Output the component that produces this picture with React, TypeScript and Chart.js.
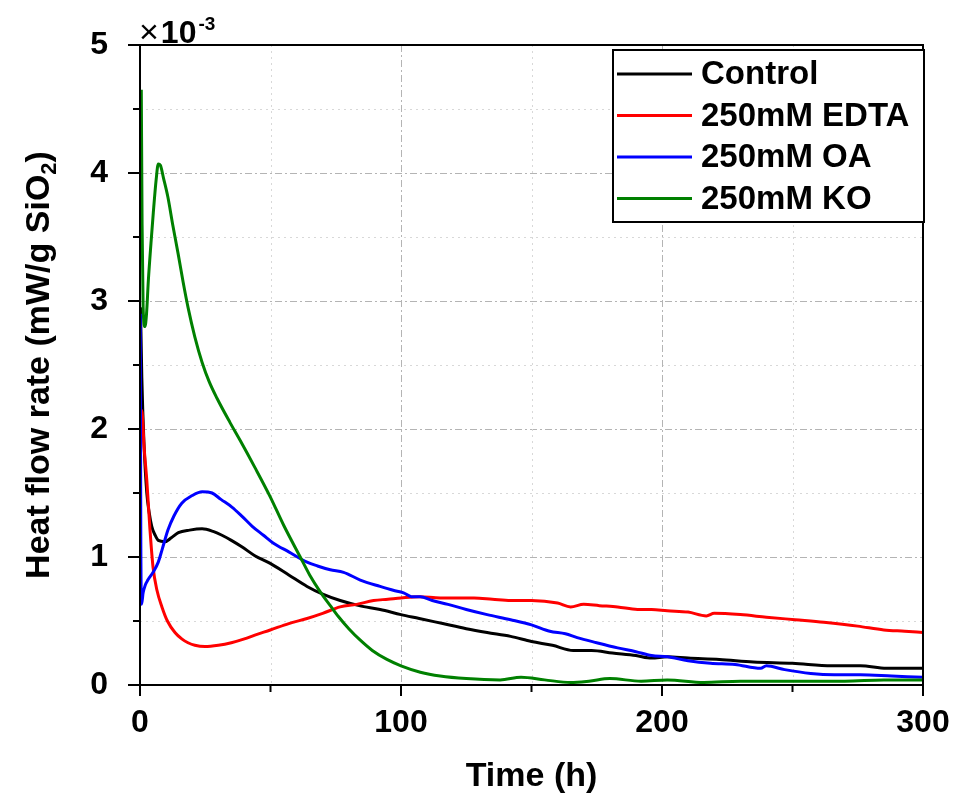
import React, { useEffect, useRef } from 'react';
import { Chart, registerables } from 'chart.js';

Chart.register(...registerables);

const FONT = "'Liberation Sans', Arial, Helvetica, sans-serif";

// Heat flow rate values in units of 10^-3 mW/g SiO2, time in hours
const seriesLabels = ['Control', '250mM EDTA', '250mM OA', '250mM KO'];
const seriesColors = ['#000000', '#ff0000', '#0000ff', '#008000'];

const controlX = [0.2, 0.7, 1.5, 2.6, 3.5, 4.5, 5.8, 7, 9.6, 12, 14.7, 19, 23.8, 28, 31.4, 35, 39, 44, 49.9, 57, 64, 70, 76.7, 84, 92, 100, 107, 116, 125, 133, 142, 150, 158, 166, 173, 181, 190, 196, 202, 210, 222, 235, 250, 265, 276, 286, 293, 300];
const controlY = [2.95, 2.4, 1.9, 1.5, 1.35, 1.24, 1.17, 1.13, 1.12, 1.15, 1.19, 1.21, 1.22, 1.2, 1.17, 1.13, 1.08, 1.01, 0.95, 0.86, 0.77, 0.71, 0.66, 0.62, 0.59, 0.55, 0.52, 0.48, 0.44, 0.41, 0.38, 0.34, 0.31, 0.27, 0.27, 0.25, 0.23, 0.21, 0.22, 0.21, 0.2, 0.18, 0.17, 0.15, 0.15, 0.13, 0.13, 0.13];

const edtaX = [0.3, 0.8, 1.6, 2.6, 3.8, 5, 6.5, 8.4, 10.5, 13.4, 16, 18.4, 21, 24.9, 30, 35, 40, 44, 49.9, 57, 64, 70, 76.7, 83, 89.5, 95, 100, 107, 115, 128, 135, 142, 150, 160, 165, 170, 176, 183, 190.6, 196, 202, 210, 217, 220, 230, 240, 251, 262, 275, 285, 293, 300];
const edtaY = [2.15, 2.13, 1.85, 1.6, 1.22, 0.92, 0.74, 0.61, 0.5, 0.41, 0.36, 0.33, 0.31, 0.3, 0.31, 0.33, 0.36, 0.39, 0.43, 0.48, 0.52, 0.56, 0.61, 0.63, 0.66, 0.67, 0.68, 0.69, 0.68, 0.68, 0.67, 0.66, 0.66, 0.64, 0.61, 0.63, 0.62, 0.61, 0.59, 0.59, 0.58, 0.57, 0.54, 0.56, 0.55, 0.53, 0.51, 0.49, 0.46, 0.43, 0.42, 0.41];

const oaX = [0.1, 0.3, 0.6, 1.2, 2, 3, 5, 7, 8.5, 10.7, 13, 16, 20, 23.8, 27.6, 31, 35.2, 39, 43, 47.3, 51, 57, 64, 68, 72.9, 78, 84.4, 92, 97, 101, 104, 107.4, 112, 118, 125, 133, 142, 150, 157, 163, 167.5, 175, 183, 190, 196, 202, 210, 218.6, 228, 237.8, 240, 247, 257, 266, 276, 288, 300];
const oaY = [2.9, 1.2, 0.63, 0.72, 0.78, 0.82, 0.88, 0.96, 1.06, 1.21, 1.32, 1.42, 1.48, 1.51, 1.5, 1.45, 1.39, 1.32, 1.24, 1.17, 1.11, 1.04, 0.96, 0.93, 0.9, 0.88, 0.82, 0.77, 0.74, 0.72, 0.69, 0.69, 0.66, 0.63, 0.59, 0.55, 0.51, 0.47, 0.42, 0.4, 0.37, 0.33, 0.29, 0.26, 0.23, 0.22, 0.19, 0.17, 0.16, 0.13, 0.15, 0.12, 0.09, 0.08, 0.08, 0.07, 0.06];

const koX = [0.5, 0.8, 1.2, 1.9, 2.5, 3.2, 4.2, 5.1, 6.2, 7, 7.8, 9, 10.7, 12.5, 14.6, 16.5, 18.4, 21, 23.8, 26.5, 29.5, 34.5, 38.4, 44, 49.9, 55, 61.4, 65, 69, 72.9, 76, 80, 84.4, 89, 94.6, 100, 107.4, 115, 125, 138, 146, 155, 165, 172, 180, 192, 202, 216, 230, 250, 270, 285, 300];
const koY = [4.65, 3.6, 2.95, 2.8, 2.9, 3.16, 3.45, 3.69, 3.95, 4.07, 4.06, 3.96, 3.81, 3.6, 3.37, 3.15, 2.95, 2.72, 2.52, 2.37, 2.24, 2.05, 1.91, 1.7, 1.47, 1.25, 1.0, 0.86, 0.73, 0.62, 0.535, 0.44, 0.35, 0.27, 0.2, 0.15, 0.1, 0.07, 0.05, 0.04, 0.06, 0.04, 0.02, 0.03, 0.05, 0.03, 0.04, 0.02, 0.03, 0.03, 0.03, 0.04, 0.04];

const seriesX = [controlX, edtaX, oaX, koX];
const seriesY = [controlY, edtaY, oaY, koY];

const xTickLabels = [0, 100, 200, 300];
const yTickLabels = [0, 1, 2, 3, 4, 5];
const xTitle = 'Time (h)';
const yTitleMain = 'Heat flow rate (mW/g SiO';
const yTitleSub = '2';
const yTitleEnd = ')';
const multiplierBase = '10';
const multiplierExp = '-3';

const decorPlugin = {
  id: 'decor',
  beforeDatasetsDraw(chart: any) {
    const { ctx, chartArea: ca, scales } = chart;
    const xs = scales.x;
    const ys = scales.y;
    ctx.save();
    ctx.lineWidth = 1;
    ys.ticks.forEach((t: any) => {
      const y = Math.round(ys.getPixelForValue(t.value)) + 0.5;
      if (t.value <= ys.min || t.value >= ys.max) return;
      const major = yTickLabels.includes(t.value);
      ctx.strokeStyle = major ? '#b4b4b4' : '#d8d8d8';
      ctx.setLineDash(major ? [7, 3, 2, 3] : [2, 4]);
      ctx.beginPath();
      ctx.moveTo(ca.left, y);
      ctx.lineTo(ca.right, y);
      ctx.stroke();
    });
    xs.ticks.forEach((t: any) => {
      const x = Math.round(xs.getPixelForValue(t.value)) + 0.5;
      if (t.value <= xs.min || t.value >= xs.max) return;
      const major = xTickLabels.includes(t.value);
      ctx.strokeStyle = major ? '#b4b4b4' : '#d8d8d8';
      ctx.setLineDash(major ? [7, 3, 2, 3] : [2, 4]);
      ctx.beginPath();
      ctx.moveTo(x, ca.top);
      ctx.lineTo(x, ca.bottom);
      ctx.stroke();
    });
    ctx.restore();
  },
  afterDraw(chart: any) {
    const { ctx, chartArea: ca, scales } = chart;
    const xs = scales.x;
    const ys = scales.y;
    ctx.save();
    ctx.setLineDash([]);
    ctx.strokeStyle = '#000';
    ctx.lineWidth = 2;
    // frame
    ctx.strokeRect(ca.left, ca.top, ca.right - ca.left, ca.bottom - ca.top);
    // ticks
    ys.ticks.forEach((t: any) => {
      const y = ys.getPixelForValue(t.value);
      const len = yTickLabels.includes(t.value) ? 12 : 7;
      ctx.beginPath();
      ctx.moveTo(ca.left - len, y);
      ctx.lineTo(ca.left, y);
      ctx.stroke();
    });
    xs.ticks.forEach((t: any) => {
      const x = xs.getPixelForValue(t.value);
      const len = xTickLabels.includes(t.value) ? 11 : 7;
      ctx.beginPath();
      ctx.moveTo(x, ca.bottom);
      ctx.lineTo(x, ca.bottom + len);
      ctx.stroke();
    });

    // multiplier label
    ctx.fillStyle = '#000';
    ctx.textBaseline = 'alphabetic';
    ctx.textAlign = 'left';
    ctx.font = `normal 34px ${FONT}`;
    let mx = ca.left - 1;
    ctx.fillText('\u00d7', mx, ca.top - 2);
    mx += ctx.measureText('\u00d7').width + 2;
    ctx.font = `bold 32px ${FONT}`;
    ctx.fillText(multiplierBase, mx, ca.top - 2);
    mx += ctx.measureText(multiplierBase).width + 2;
    ctx.font = `bold 19px ${FONT}`;
    ctx.fillText(multiplierExp, mx, ca.top - 15);

    // y title with subscript
    ctx.save();
    ctx.translate(37, (ca.top + ca.bottom) / 2);
    ctx.rotate(-Math.PI / 2);
    ctx.font = `bold 34px ${FONT}`;
    const w1 = ctx.measureText(yTitleMain).width;
    const w3 = ctx.measureText(yTitleEnd).width;
    ctx.font = `bold 22px ${FONT}`;
    const w2 = ctx.measureText(yTitleSub).width;
    const total = w1 + w2 + w3;
    let tx = -total / 2;
    ctx.textBaseline = 'alphabetic';
    ctx.font = `bold 34px ${FONT}`;
    ctx.fillText(yTitleMain, tx, 12);
    tx += w1;
    ctx.font = `bold 22px ${FONT}`;
    ctx.fillText(yTitleSub, tx, 19);
    tx += w2;
    ctx.font = `bold 34px ${FONT}`;
    ctx.fillText(yTitleEnd, tx, 12);
    ctx.restore();

    // legend
    const lw = 311;
    const lh = 172;
    const lx = ca.right - lw + 1;
    const ly = ca.top + 5;
    ctx.fillStyle = '#fff';
    ctx.fillRect(lx, ly, lw, lh);
    ctx.strokeStyle = '#000';
    ctx.lineWidth = 2;
    ctx.strokeRect(lx, ly, lw, lh);
    ctx.font = `bold 33px ${FONT}`;
    ctx.textBaseline = 'middle';
    seriesLabels.forEach((label, i) => {
      const ry = ly + 24 + i * 41.5;
      ctx.strokeStyle = seriesColors[i];
      ctx.lineWidth = 3;
      ctx.beginPath();
      ctx.moveTo(lx + 4, ry);
      ctx.lineTo(lx + 79, ry);
      ctx.stroke();
      ctx.fillStyle = '#000';
      ctx.fillText(label, lx + 88, ry + 1);
    });
    ctx.restore();
  },
};

export default function App() {
  const ref = useRef<HTMLCanvasElement>(null);
  useEffect(() => {
    document.body.style.margin = '0';
    const canvas = ref.current;
    if (!canvas) return;
    const datasets = seriesLabels.map((label, i) => ({
      label,
      data: seriesX[i].map((x, j) => ({ x, y: seriesY[i][j] })),
      borderColor: seriesColors[i],
      backgroundColor: seriesColors[i],
      borderWidth: 3,
      pointRadius: 0,
      fill: false,
      cubicInterpolationMode: 'monotone' as const,
      order: seriesLabels.length - i,
    }));
    const chart = new Chart(canvas, {
      type: 'line',
      data: { datasets },
      plugins: [decorPlugin],
      options: {
        animation: false,
        responsive: false,
        devicePixelRatio: 1,
        layout: { padding: { top: 45, right: 32, bottom: 0, left: 0 } },
        plugins: { legend: { display: false }, tooltip: { enabled: false } },
        scales: {
          x: {
            type: 'linear',
            min: 0,
            max: 300,
            afterFit: (s: any) => {
              s.height = 114;
              s.paddingLeft = 0;
              s.paddingRight = 0;
            },
            grid: { display: false },
            border: { display: false },
            ticks: {
              stepSize: 50,
              autoSkip: false,
              maxRotation: 0,
              padding: 11,
              color: '#000',
              font: { family: FONT, size: 32, weight: 'bold' },
              callback: (v: any) => (xTickLabels.includes(Number(v)) ? String(v) : ''),
            },
            title: {
              display: true,
              text: xTitle,
              color: '#000',
              font: { family: FONT, size: 34, weight: 'bold' },
              padding: { top: 0, bottom: 2 },
            },
          },
          y: {
            type: 'linear',
            min: 0,
            max: 5,
            afterFit: (s: any) => {
              s.width = 140;
              s.paddingTop = 0;
              s.paddingBottom = 0;
            },
            grid: { display: false },
            border: { display: false },
            ticks: {
              stepSize: 0.5,
              autoSkip: false,
              padding: 24,
              color: '#000',
              font: { family: FONT, size: 32, weight: 'bold' },
              callback: (v: any) => (yTickLabels.includes(Number(v)) ? String(v) : ''),
            },
          },
        },
      },
    });
    return () => chart.destroy();
  }, []);
  return <canvas ref={ref} width={955} height={799} style={{ display: 'block' }} />;
}
